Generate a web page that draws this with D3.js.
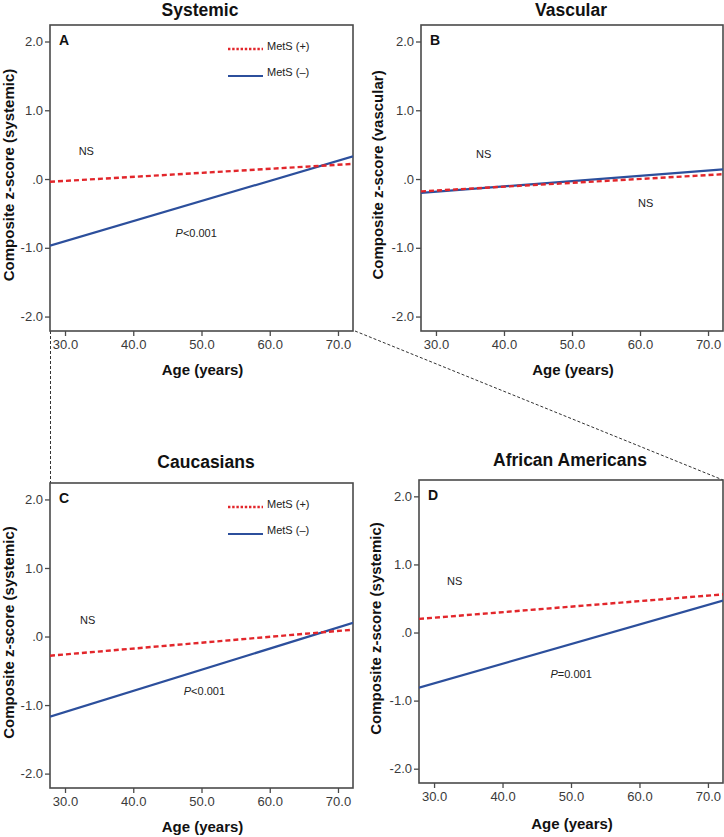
<!DOCTYPE html>
<html>
<head>
<meta charset="utf-8">
<script src="https://cdn.jsdelivr.net/npm/d3@7/dist/d3.min.js"></script>
<style>
  html, body { margin: 0; padding: 0; background: #fff; }
  svg text { font-family: "Liberation Sans", Arial, Helvetica, sans-serif; }
</style>
</head>
<body>
<svg id="chart" width="724" height="837"></svg>
<script>
// ---- data ----
const panelTitles = ["Systemic", "Vascular", "Caucasians", "African Americans"];
const panelLetters = ["A", "B", "C", "D"];
const yAxisLabels = [
  "Composite z-score (systemic)",
  "Composite z-score (vascular)",
  "Composite z-score (systemic)",
  "Composite z-score (systemic)"
];
const xAxisLabel = "Age (years)";
const ageDomain = [27.8, 72.2];
const zDomain = [-2.21, 2.24];
const lineAges = [27.8, 72.2];
const xTicks = [30, 40, 50, 60, 70];
const yTicks = [-2, -1, 0, 1, 2];
const yTickLabels = ["-2.0", "-1.0", ".0", "1.0", "2.0"];
const seriesNames = ["MetS (+)", "MetS (\u2013)"];
// values at the two ends of the age range, per panel
const metsPos = [[-0.04, 0.22], [-0.18, 0.07], [-0.28, 0.10], [0.20, 0.56]];
const metsNeg = [[-0.97, 0.33], [-0.20, 0.14], [-1.17, 0.20], [-0.81, 0.47]];
// annotations: [age, z, text]
const annotations = [
  [[32.0, 0.345, "NS"], [46.2, -0.85, "P<0.001"]],
  [[35.9, 0.31, "NS"], [59.7, -0.40, "NS"]],
  [[32.2, 0.18, "NS"], [47.4, -0.85, "P<0.001"]],
  [[31.9, 0.70, "NS"], [47.0, -0.67, "P=0.001"]]
];
const showLegend = [true, false, true, false];

// ---- layout ----
const frames = [
  {x0: 50, y0: 25, x1: 353, y1: 331, titleX: 200, titleY: 16, yLabX: 14, xLabY: 375},
  {x0: 421, y0: 25, x1: 723, y1: 331, titleX: 571, titleY: 16, yLabX: 383, xLabY: 375},
  {x0: 50, y0: 483, x1: 353, y1: 788, titleX: 206, titleY: 468, yLabX: 14, xLabY: 832},
  {x0: 419, y0: 480, x1: 723, y1: 783, titleX: 570, titleY: 466, yLabX: 381, xLabY: 829}
];
const RED = "#e2262b";
const BLUE = "#2c4f9c";
const FRAME = "#4a4a4a";

const svg = d3.select("#chart");

// connector dashed lines (zoom indication)
svg.append("line")
  .attr("x1", 50.5).attr("y1", 331).attr("x2", 50.5).attr("y2", 483)
  .attr("stroke", "#333").attr("stroke-width", 1).attr("stroke-dasharray", "3,2");
svg.append("line")
  .attr("x1", 355).attr("y1", 331).attr("x2", 723).attr("y2", 480)
  .attr("stroke", "#333").attr("stroke-width", 1).attr("stroke-dasharray", "3,2");

frames.forEach((f, i) => {
  const x = d3.scaleLinear().domain(ageDomain).range([f.x0, f.x1]);
  const y = d3.scaleLinear().domain(zDomain).range([f.y1, f.y0]);
  const g = svg.append("g");

  // frame
  g.append("rect")
    .attr("x", f.x0).attr("y", f.y0)
    .attr("width", f.x1 - f.x0).attr("height", f.y1 - f.y0)
    .attr("fill", "#fff").attr("stroke", FRAME).attr("stroke-width", 1.6);

  // axes
  const xAxis = d3.axisBottom(x).tickValues(xTicks).tickFormat(d3.format(".1f"))
    .tickSize(5).tickPadding(4);
  const yAxis = d3.axisLeft(y).tickValues(yTicks)
    .tickFormat((d, k) => yTickLabels[k])
    .tickSize(5).tickPadding(2);
  const gx = g.append("g").attr("transform", `translate(0,${f.y1})`).call(xAxis);
  const gy = g.append("g").attr("transform", `translate(${f.x0},0)`).call(yAxis);
  [gx, gy].forEach(a => {
    a.select(".domain").remove();
    a.selectAll(".tick line").attr("stroke", FRAME).attr("stroke-width", 1.3);
    a.selectAll(".tick text").attr("fill", "#3a3a3a")
      .style("font-size", "13px");
  });

  // lines
  const lineGen = d3.line().x(d => x(d[0])).y(d => y(d[1]));
  const clipId = "clip" + i;
  g.append("clipPath").attr("id", clipId).append("rect")
    .attr("x", f.x0).attr("y", f.y0).attr("width", f.x1 - f.x0).attr("height", f.y1 - f.y0);
  const lg = g.append("g").attr("clip-path", `url(#${clipId})`);
  lg.append("path")
    .datum(lineAges.map((a, k) => [a, metsNeg[i][k]]))
    .attr("d", lineGen).attr("fill", "none")
    .attr("stroke", BLUE).attr("stroke-width", 2.2);
  lg.append("path")
    .datum(lineAges.map((a, k) => [a, metsPos[i][k]]))
    .attr("d", lineGen).attr("fill", "none")
    .attr("stroke", RED).attr("stroke-width", 2.4).attr("stroke-dasharray", "5,3");

  // panel title
  g.append("text").attr("x", f.titleX).attr("y", f.titleY)
    .attr("text-anchor", "middle").attr("font-weight", "bold")
    .style("font-size", "17.5px").attr("fill", "#111").text(panelTitles[i]);

  // panel letter
  g.append("text").attr("x", f.x0 + 9).attr("y", f.y0 + 20)
    .attr("font-weight", "bold").style("font-size", "14px").attr("fill", "#111")
    .text(panelLetters[i]);

  // axis labels
  g.append("text").attr("x", (f.x0 + f.x1) / 2 + 1).attr("y", f.xLabY)
    .attr("text-anchor", "middle").attr("font-weight", "bold")
    .style("font-size", "15px").attr("fill", "#111").text(xAxisLabel);
  g.append("text")
    .attr("transform", `translate(${f.yLabX},${(f.y0 + f.y1) / 2 - 3}) rotate(-90)`)
    .attr("text-anchor", "middle").attr("font-weight", "bold")
    .style("font-size", "15px").attr("fill", "#111").text(yAxisLabels[i]);

  // annotations
  annotations[i].forEach(a => {
    const t = g.append("text").attr("x", x(a[0])).attr("y", y(a[1]))
      .style("font-size", "11px").attr("fill", "#222");
    if (a[2].startsWith("P")) {
      t.append("tspan").attr("font-style", "italic").text("P");
      t.append("tspan").text(a[2].slice(1));
    } else {
      t.text(a[2]);
    }
  });

  // legend
  if (showLegend[i]) {
    const lx = f.x0 + 178, ly1 = f.y0 + 24, ly2 = f.y0 + 51;
    g.append("line").attr("x1", lx).attr("x2", lx + 35).attr("y1", ly1).attr("y2", ly1)
      .attr("stroke", RED).attr("stroke-width", 2.4).attr("stroke-dasharray", "2.4,1.8");
    g.append("text").attr("x", lx + 39).attr("y", ly1 + 0.5)
      .style("font-size", "11px").attr("fill", "#222").text(seriesNames[0]);
    g.append("line").attr("x1", lx).attr("x2", lx + 35).attr("y1", ly2).attr("y2", ly2)
      .attr("stroke", BLUE).attr("stroke-width", 2.2);
    g.append("text").attr("x", lx + 39).attr("y", ly2)
      .style("font-size", "11px").attr("fill", "#222").text(seriesNames[1]);
  }
});
</script>
</body>
</html>
